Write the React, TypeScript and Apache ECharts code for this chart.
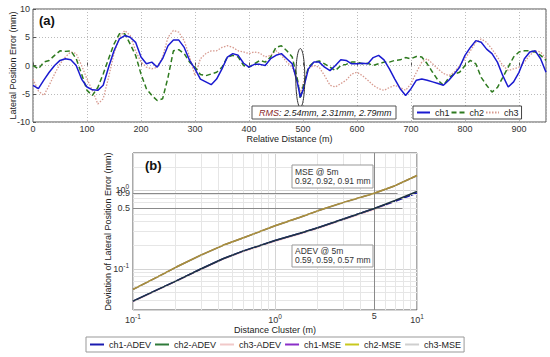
import React, { useEffect, useRef } from "react";
import * as echarts from "echarts";

// ---------- (a) lateral position error ----------
const distance = [
  0, 10, 20, 30, 40, 50, 60, 70, 80, 90, 100, 110, 120, 130, 140, 150, 160, 170, 180, 190,
  200, 210, 220, 230, 240, 250, 260, 270, 280, 290, 300, 310, 320, 330, 340, 350, 360, 370, 380, 390,
  400, 410, 420, 430, 440, 450, 460, 470, 480, 490, 495, 500, 510, 520, 530, 540, 550, 560, 570, 580,
  590, 600, 610, 620, 630, 640, 650, 660, 670, 680, 690, 700, 710, 720, 730, 740, 750, 760, 770, 780,
  790, 800, 810, 820, 830, 840, 850, 860, 870, 880, 890, 900, 910, 920, 930, 940, 950,
];
const ch1 = [
  -3.5, -4.1, -2.6, -1.2, 0, 0.9, 1.2, 1.0, 0, -2.4, -3.8, -4.3, -4.4, -3.5, -0.3, 2.6, 4.7, 5.3, 5.0, 4.1,
  1.5, 0.3, 0.6, -0.3, 1.2, 3.5, 4.5, 4.5, 3.2, 0.9, -0.6, -2.4, -2.9, -3.4, -2.4, -0.6, 1.5, 2.1, 1.8, 0.4,
  -0.3, 0.2, 0.2, 0, 1.2, 1.8, 2.1, 1.2, 0.3, -3.2, -5.6, -4.4, -0.6, 0.6, 0.6, -0.3, -0.9, 0, 1.0, 0.9,
  0.3, 0.3, 0.4, 0.3, 1.4, 1.8, 1.0, -0.6, -2.4, -4.1, -5.3, -4.1, -2.6, -2.4, -2.6, -2.9, -3.2, -3.5, -2.6, -1.5,
  -0.3, 1.8, 3.2, 4.4, 4.1, 2.9, 2.1, 0.6, -1.8, -3.8, -2.9, -1.2, 1.2, 2.4, 2.6, 1.2, -1.2,
];
const ch2 = [
  0, -0.6, 0.6, 0.9, 1.8, 2.6, 2.5, 2.6, 1.2, -1.5, -4.4, -5.3, -3.9, -1.5, 1.2, 3.8, 5.6, 5.6, 3.8, 1.8,
  -1.5, -4.1, -5.3, -6.2, -5.9, -2.1, 2.6, 2.8, 2.1, 0.6, -0.3, -1.6, -1.8, -1.5, -1.2, -0.3, 1.5, 1.8, 1.5, 0,
  -0.3, 0.3, 0.9, 0.6, 1.5, 3.2, 3.5, 2.6, 1.5, -2.6, -5.9, -3.8, -0.3, 0.6, 0.8, 0.3, -0.3, -0.9, 0, 0.2,
  0.6, 0.6, 0.3, 0.4, 0, 0.3, 0.6, 0.6, 0.9, 1.0, 1.4, 1.2, 1.6, 1.5, 0.3, -1.2, -2.6, -3.5, -2.2, -1.5,
  -1.2, 0, 0.9, 0.3, -2.1, -3.5, -4.7, -3.9, -2.1, -0.3, 1.5, 2.4, 2.6, 2.6, 2.4, 1.8, 0.9,
];
const ch3 = [
  -2.4, -4.5, -5.3, -3.5, -1.5, 0.3, 1.5, 2.4, 2.1, 0, -2.4, -4.4, -6.8, -5.9, -2.1, 2.1, 5.0, 6.2, 5.3, 2.6,
  0.6, -0.3, -0.6, -0.3, 1.5, 5.0, 6.2, 5.9, 4.4, 1.5, -1.8, 1.2, 2.1, 2.6, 2.6, 3.2, 3.5, 3.2, 2.6, 2.4,
  2.1, 2.4, 2.2, 1.5, 1.8, 2.6, 1.8, 0.6, -0.3, -2.6, -5.0, -3.2, -0.6, 0, -0.3, -1.8, -3.5, -3.8, -3.2, -2.6,
  -1.5, -1.2, -1.8, -2.6, -3.5, -4.1, -4.4, -3.9, -3.5, -3.9, -4.4, -3.2, -1.2, 0.6, 1.2, 0.3, -0.6, -1.4, -1.8, -1.2,
  0, 1.2, 2.6, 4.1, 4.7, 4.1, 2.9, 1.5, 0, -0.9, -0.6, -0.3, 0.6, 1.8, 2.6, 2.4, 1.2,
];
const rmsText = ["2.54mm", "2.31mm", "2.79mm"];

// ---------- (b) deviation vs distance cluster ----------
const cluster = [0.1, 0.15, 0.2, 0.3, 0.43, 0.6, 1, 1.5, 2, 3, 5, 7, 10];
const ch1Adev = [0.039, 0.055, 0.07, 0.1, 0.135, 0.17, 0.23, 0.285, 0.335, 0.43, 0.59, 0.73, 0.93];
const ch2Adev = [0.039, 0.055, 0.07, 0.1, 0.135, 0.17, 0.23, 0.285, 0.335, 0.43, 0.59, 0.745, 0.97];
const ch3Adev = [0.038, 0.054, 0.069, 0.098, 0.132, 0.166, 0.225, 0.278, 0.327, 0.42, 0.57, 0.72, 0.95];
const ch1Mse = [0.055, 0.08, 0.105, 0.15, 0.2, 0.25, 0.355, 0.455, 0.55, 0.7, 0.92, 1.15, 1.55];
const ch2Mse = [0.055, 0.08, 0.105, 0.15, 0.2, 0.25, 0.355, 0.455, 0.55, 0.7, 0.92, 1.15, 1.55];
const ch3Mse = [0.054, 0.079, 0.104, 0.148, 0.198, 0.248, 0.35, 0.45, 0.545, 0.69, 0.91, 1.14, 1.53];
const mseAt5 = ["0.92", "0.92", "0.91"];
const adevAt5 = ["0.59", "0.59", "0.57"];
const xMinor = [0.2, 0.3, 0.4, 0.5, 0.6, 0.7, 0.8, 0.9, 2, 3, 4, 5, 6, 7, 8, 9];
const yMinor = [0.04, 0.05, 0.06, 0.07, 0.08, 0.09, 0.2, 0.3, 0.4, 0.5, 0.6, 0.7, 0.8, 0.9, 2, 3];

const FONT = "'Liberation Sans', Arial, Helvetica, sans-serif";

const pairs = (xs: number[], ys: number[]) => xs.map((x, i) => [x, ys[i]]);

const legendItem = (name: string, color: string) => ({
  name,
  lineStyle: { color },
  itemStyle: { color, opacity: 0 },
});

export default function App() {
  const ref = useRef<HTMLDivElement>(null);
  useEffect(() => {
    if (!ref.current) return;
    const chart = echarts.init(ref.current, undefined, { renderer: "svg" });
    const sup = (v: number) => {
      const e = Math.round(Math.log10(v));
      if (Math.abs(Math.log10(v) - e) > 1e-6) return "";
      return `{b|10}{s|${e}}`;
    };
    const richSup = {
      b: { fontSize: 9, fontFamily: FONT, color: "#333" },
      s: { fontSize: 6.5, fontFamily: FONT, color: "#333", padding: [0, 0, 7, 0] },
    };
    const option: any = {
      animation: false,
      textStyle: { fontFamily: FONT },
      grid: [
        { left: 32, top: 9, width: 514, height: 113, show: true, borderColor: "#555", borderWidth: 1, backgroundColor: "#fff" },
        { left: 133, top: 153, width: 284, height: 157, show: true, borderColor: "#555", borderWidth: 1, backgroundColor: "#fff" },
      ],
      xAxis: [
        {
          type: "value", gridIndex: 0, min: 0, max: 950, interval: 100,
          name: "Relative Distance (m)", nameLocation: "middle", nameGap: 12, nameMoveOverlap: false,
          nameTextStyle: { fontSize: 9, color: "#222", fontFamily: FONT },
          axisLine: { show: false },
          axisTick: { inside: true, length: 3, lineStyle: { color: "#555" } },
          axisLabel: { fontSize: 9, color: "#333", margin: 2, showMaxLabel: false },
          splitLine: { show: true, lineStyle: { color: "#bbb", type: [1, 2] } },
        },
        {
          type: "log", gridIndex: 1, min: 0.1, max: 10, logBase: 10,
          name: "Distance Cluster (m)", nameLocation: "middle", nameGap: 15, nameMoveOverlap: false,
          nameTextStyle: { fontSize: 9, color: "#222", fontFamily: FONT },
          axisLine: { show: false },
          axisTick: { show: false },
          axisLabel: { formatter: (v: number) => sup(v), rich: richSup, margin: 3 },
          splitLine: { show: true, lineStyle: { color: "#d4d4d4" } },
        },
      ],
      yAxis: [
        {
          type: "value", gridIndex: 0, min: -10, max: 10, interval: 5,
          name: "Lateral Position Error (mm)", nameLocation: "middle", nameGap: 16, nameMoveOverlap: false,
          nameTextStyle: { fontSize: 9, color: "#222", fontFamily: FONT },
          axisLine: { show: false },
          axisTick: { inside: true, length: 3, lineStyle: { color: "#555" } },
          axisLabel: { fontSize: 9, color: "#333", margin: 3 },
          splitLine: { show: true, lineStyle: { color: "#bbb", type: [1, 2] } },
        },
        {
          type: "log", gridIndex: 1, min: 0.03, max: 3, logBase: 10,
          name: "Deviation of Lateral Position Error (mm)", nameLocation: "middle", nameGap: 21,
          nameMoveOverlap: false,
          nameTextStyle: { fontSize: 9, color: "#222", fontFamily: FONT },
          axisLine: { show: false },
          axisTick: { show: false },
          axisLabel: { formatter: (v: number) => sup(v), rich: richSup, margin: 4 },
          splitLine: { show: true, lineStyle: { color: "#d4d4d4" } },
        },
      ],
      legend: [
        {
          left: 413, top: 106, orient: "horizontal", itemWidth: 13, itemHeight: 8, itemGap: 1,
          padding: [2, 3], borderColor: "#444", borderWidth: 1, backgroundColor: "#fff",
          textStyle: { fontSize: 9, color: "#222", fontFamily: FONT },
          data: [legendItem("ch1", "#1a1ad0"), legendItem("ch2", "#2e7a1f"), legendItem("ch3", "#d79a8f")],
        },
        {
          left: 86, top: 337, orient: "horizontal", itemWidth: 14, itemHeight: 8, itemGap: 3,
          padding: [3, 3], borderColor: "#999", borderWidth: 1, backgroundColor: "#fff",
          textStyle: { fontSize: 9, color: "#222", fontFamily: FONT },
          data: [
            legendItem("ch1-ADEV", "#1a1ab0"),
            legendItem("ch2-ADEV", "#2f7a3a"),
            legendItem("ch3-ADEV", "#f1c9c9"),
            legendItem("ch1-MSE", "#8a2fc8"),
            legendItem("ch2-MSE", "#c8c81e"),
            legendItem("ch3-MSE", "#cfcfcf"),
          ],
        },
      ],
      series: [
        {
          name: "ch3", type: "line", xAxisIndex: 0, yAxisIndex: 0, symbol: "none", z: 2,
          data: pairs(distance, ch3), color: "#d79a8f",
          lineStyle: { color: "#d79a8f", width: 1.3, type: [1.5, 1.5] },
        },
        {
          name: "ch2", type: "line", xAxisIndex: 0, yAxisIndex: 0, symbol: "none", z: 3,
          data: pairs(distance, ch2), color: "#2e7a1f",
          lineStyle: { color: "#2e7a1f", width: 1.5, type: [5, 3] },
        },
        {
          name: "ch1", type: "line", xAxisIndex: 0, yAxisIndex: 0, symbol: "none", z: 4,
          data: pairs(distance, ch1), color: "#1a1ad0",
          lineStyle: { color: "#1a1ad0", width: 1.5 },
        },
        {
          name: "grid-b", type: "line", xAxisIndex: 1, yAxisIndex: 1, symbol: "none", z: 1, data: [],
          silent: true,
          markLine: {
            silent: true, symbol: "none", label: { show: false },
            lineStyle: { color: "#e6e6e6", type: "solid", width: 1 },
            data: [
              ...xMinor.map((v) => [{ coord: [v, 0.03] }, { coord: [v, 3] }]),
              ...yMinor.map((v) => [{ coord: [0.1, v] }, { coord: [10, v] }]),
            ],
          },
        },
        {
          name: "ref-b", type: "line", xAxisIndex: 1, yAxisIndex: 1, symbol: "none", z: 2, data: [],
          silent: true,
          markLine: {
            silent: true, symbol: "none",
            lineStyle: { color: "#8a8a8a", type: "solid", width: 1 },
            label: { show: true, position: "start", fontSize: 9, color: "#333", fontFamily: FONT, distance: 3 },
            data: [
              [{ coord: [0.1, 0.92], label: { formatter: "0.9" } }, { coord: [7.3, 0.92] }],
              [{ coord: [0.1, 0.59], label: { formatter: "0.5" } }, { coord: [7.9, 0.59] }],
              [{ coord: [5, 0.03], label: { formatter: "5", distance: 1 } }, { coord: [5, 3] }],
            ],
          },
        },
        {
          name: "ch3-ADEV", type: "line", xAxisIndex: 1, yAxisIndex: 1, symbol: "none", z: 3,
          data: pairs(cluster, ch3Adev), color: "#f1c9c9", lineStyle: { color: "#f1c9c9", width: 1.3 },
        },
        {
          name: "ch3-MSE", type: "line", xAxisIndex: 1, yAxisIndex: 1, symbol: "none", z: 3,
          data: pairs(cluster, ch3Mse), color: "#cfcfcf", lineStyle: { color: "#cfcfcf", width: 1.3 },
        },
        {
          name: "ch1-ADEV", type: "line", xAxisIndex: 1, yAxisIndex: 1, symbol: "none", z: 4,
          data: pairs(cluster, ch1Adev), color: "#1a1ab0", lineStyle: { color: "#1a1ab0", width: 1.5 },
        },
        {
          name: "ch1-MSE", type: "line", xAxisIndex: 1, yAxisIndex: 1, symbol: "none", z: 4,
          data: pairs(cluster, ch1Mse), color: "#8a2fc8", lineStyle: { color: "#8a6f5a", width: 1.5 },
        },
        {
          name: "ch2-ADEV", type: "line", xAxisIndex: 1, yAxisIndex: 1, symbol: "none", z: 5,
          data: pairs(cluster, ch2Adev), color: "#2f7a3a", lineStyle: { color: "#203440", width: 1.5 },
        },
        {
          name: "ch2-MSE", type: "line", xAxisIndex: 1, yAxisIndex: 1, symbol: "none", z: 5,
          data: pairs(cluster, ch2Mse), color: "#c8c81e", lineStyle: { color: "#a88f3c", width: 1.5 },
        },
      ],
    };
    chart.setOption(option);

    const ell = chart.convertToPixel({ gridIndex: 0 }, [495, -2.2]) as number[];
    const ellTop = chart.convertToPixel({ gridIndex: 0 }, [495, 3]) as number[];
    const ry = ell[1] - ellTop[1];
    chart.setOption({
      graphic: [
        {
          type: "ellipse", shape: { cx: ell[0], cy: ell[1], rx: 4.5, ry },
          style: { fill: "none", stroke: "#333", lineWidth: 1 }, z: 10,
        },
        {
          type: "rect", shape: { x: 252, y: 106, width: 144, height: 13 },
          style: { fill: "#fff", stroke: "#555", lineWidth: 1 }, z: 10,
        },
        {
          type: "text", x: 259, y: 112.5, z: 11,
          style: {
            text: `{r|RMS}{t|: ${rmsText.join(", ")}}`,
            verticalAlign: "middle",
            rich: {
              r: { fontSize: 9, fontStyle: "italic", fill: "#8a1f2a", fontFamily: FONT },
              t: { fontSize: 9, fontStyle: "italic", fill: "#222", fontFamily: FONT },
            },
          },
        },
        {
          type: "text", x: 39, y: 20, z: 11,
          style: { text: "(a)", fontSize: 13, fontWeight: "bold", fill: "#111", fontFamily: FONT, verticalAlign: "middle" },
        },
        {
          type: "text", x: 145, y: 165, z: 11,
          style: { text: "(b)", fontSize: 13, fontWeight: "bold", fill: "#111", fontFamily: FONT, verticalAlign: "middle" },
        },
        {
          type: "rect", shape: { x: 292, y: 165, width: 81, height: 23 },
          style: { fill: "#fff", stroke: "#999", lineWidth: 1 }, z: 10,
        },
        {
          type: "text", x: 295, y: 176.5, z: 11,
          style: {
            text: `MSE @ 5m\n${mseAt5.join(", ")} mm`, fontSize: 8.5, lineHeight: 9, fill: "#333",
            fontFamily: FONT, verticalAlign: "middle",
          },
        },
        {
          type: "rect", shape: { x: 292, y: 245, width: 81, height: 22 },
          style: { fill: "#fff", stroke: "#999", lineWidth: 1 }, z: 10,
        },
        {
          type: "text", x: 295, y: 255.5, z: 11,
          style: {
            text: `ADEV @ 5m\n${adevAt5.join(", ")} mm`, fontSize: 8.5, lineHeight: 9, fill: "#333",
            fontFamily: FONT, verticalAlign: "middle",
          },
        },
      ],
    });
    return () => chart.dispose();
  }, []);
  return (
    <div
      ref={ref}
      style={{ position: "fixed", left: 0, top: 0, width: 550, height: 357, background: "#fff" }}
    />
  );
}
